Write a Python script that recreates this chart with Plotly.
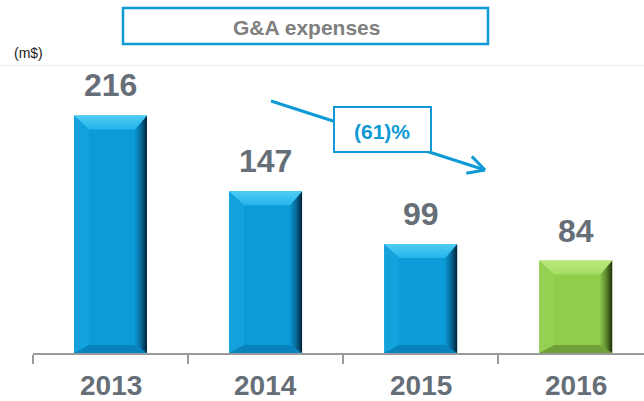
import math
import plotly.graph_objects as go

# ---- data ----
years = ["2013", "2014", "2015", "2016"]
values = [216, 147, 99, 84]
value_labels = ["216", "147", "99", "84"]
title_text = "G&A expenses"
unit_text = "(m$)"
change_text = "(61)%"

# ---- layout constants ----
W, H = 644, 401
PLOT_L, PLOT_R = 33, 644
PLOT_T, PLOT_B = 65, 353
X_RANGE = [-0.5, 3.44]
PX_PER_Y = 1.1
Y_RANGE = [0, (PLOT_B - PLOT_T) / PX_PER_Y]
PX_PER_X = (PLOT_R - PLOT_L) / (X_RANGE[1] - X_RANGE[0])
BAR_W = 0.47

BLUE = "#0f9ad6"
GRAY_TXT = "#666e77"

styles = {
    "blue": dict(body="#0b9bd8", top0="#4fcdf4", top1="#25b3ea",
                 left="#13a2dc", bottom="#0883bb",
                 right=[[0, "#0a94ce"], [0.5, "#07699a"], [1, "#032235"]]),
    "green": dict(body="#8fcd4c", top0="#bce87f", top1="#a3dc62",
                  left="#94d152", bottom="#6f9f36",
                  right=[[0, "#88c347"], [0.5, "#5e892d"], [1, "#1e2e0a"]]),
}
bar_style = ["blue", "blue", "blue", "green"]


def fx(px):
    return px / W


def fy(py):
    return 1 - py / H


xs = list(range(len(years)))
fig = go.Figure()

fig.add_trace(go.Bar(
    x=xs, y=values, width=BAR_W,
    marker=dict(color=[styles[s]["body"] for s in bar_style], line=dict(width=0)),
    hoverinfo="skip", showlegend=False,
))

# bevel faces derived from data values
dx = 15 / PX_PER_X
dxr = 12 / PX_PER_X
dy_top = 14 / PX_PER_Y
dy_bot = 8 / PX_PER_Y
for i, (v, s) in enumerate(zip(values, bar_style)):
    st = styles[s]
    x0, x1 = i - BAR_W / 2, i + BAR_W / 2
    ix0, ix1 = x0 + dx, x1 - dxr
    it, ib = v - dy_top, dy_bot
    faces = [
        ([x0, ix0, ix0, x0, x0], [0, ib, it, v, 0], st["left"], None),
        ([x0, x1, ix1, ix0, x0], [0, 0, ib, ib, 0], st["bottom"], None),
        ([x1, x1, ix1, ix1, x1], [0, v, it, ib, 0], None,
         dict(type="horizontal", colorscale=st["right"])),
        ([x0, x1, ix1, ix0, x0], [v, v, it, it, v], None,
         dict(type="vertical", colorscale=[[0, st["top1"]], [1, st["top0"]]])),
    ]
    for fxs, fys, solid, grad in faces:
        kw = dict(x=fxs, y=fys, mode="lines", fill="toself", line=dict(width=0),
                  hoverinfo="skip", showlegend=False)
        if grad is not None:
            kw["fillgradient"] = grad
        else:
            kw["fillcolor"] = solid
        fig.add_trace(go.Scatter(**kw))

FONT = "Liberation Sans, Arial, sans-serif"
annotations = []
for i, (v, lab) in enumerate(zip(values, value_labels)):
    annotations.append(dict(
        x=i, y=v, xref="x", yref="y", text=lab, showarrow=False,
        yanchor="middle", yshift=30,
        font=dict(family=FONT, size=32, color=GRAY_TXT, weight="bold"),
    ))
for i, yr in enumerate(years):
    annotations.append(dict(
        x=i, y=fy(385), xref="x", yref="paper", text=yr, showarrow=False,
        yanchor="middle",
        font=dict(family=FONT, size=28, color=GRAY_TXT, weight="bold"),
    ))
annotations.append(dict(
    x=fx(306), y=fy(27), xref="paper", yref="paper", text=title_text,
    showarrow=False, xanchor="center", yanchor="middle",
    font=dict(family=FONT, size=21, color="#7f7f7f", weight="bold"),
))
annotations.append(dict(
    x=fx(12), y=fy(53), xref="paper", yref="paper", text=unit_text,
    showarrow=False, xanchor="left", yanchor="middle",
    font=dict(family=FONT, size=14, color="#222222"),
))
annotations.append(dict(
    x=fx(382), y=fy(132), xref="paper", yref="paper", text=change_text,
    showarrow=False, xanchor="center", yanchor="middle",
    font=dict(family=FONT, size=21, color=BLUE, weight="bold"),
))

shapes = []
shapes.append(dict(type="line", xref="paper", yref="paper",
                   x0=0, x1=1, y0=fy(65.5), y1=fy(65.5),
                   line=dict(color="#ececec", width=1), layer="below"))
shapes.append(dict(type="rect", xref="paper", yref="paper",
                   x0=fx(123), x1=fx(488), y0=fy(44), y1=fy(8),
                   line=dict(color=BLUE, width=2.5), fillcolor="white", layer="below"))
a0, a1 = (271, 101), (485, 170)
shapes.append(dict(type="line", xref="paper", yref="paper",
                   x0=fx(a0[0]), y0=fy(a0[1]), x1=fx(a1[0]), y1=fy(a1[1]),
                   line=dict(color=BLUE, width=3)))
ux, uy = a1[0] - a0[0], a1[1] - a0[1]
n = math.hypot(ux, uy)
ux, uy = ux / n, uy / n
L, ang = 19, math.radians(28)
for sgn in (1, -1):
    ca, sa = math.cos(sgn * ang), math.sin(sgn * ang)
    bx, by = -ux, -uy
    rx, ry = bx * ca - by * sa, bx * sa + by * ca
    shapes.append(dict(type="line", xref="paper", yref="paper",
                       x0=fx(a1[0]), y0=fy(a1[1]),
                       x1=fx(a1[0] + L * rx), y1=fy(a1[1] + L * ry),
                       line=dict(color=BLUE, width=3)))
shapes.append(dict(type="rect", xref="paper", yref="paper",
                   x0=fx(334), x1=fx(431), y0=fy(152), y1=fy(107),
                   line=dict(color=BLUE, width=2), fillcolor="white"))

fig.update_layout(
    width=W, height=H,
    margin=dict(l=0, r=0, t=0, b=0),
    paper_bgcolor="white", plot_bgcolor="rgba(0,0,0,0)",
    showlegend=False,
    xaxis=dict(domain=[PLOT_L / W, PLOT_R / W], range=X_RANGE, type="linear",
               tickvals=[-0.5, 0.5, 1.5, 2.5, 3.5], ticktext=[""] * 5,
               ticks="outside", ticklen=9, tickwidth=2, tickcolor="#9a9a9a",
               showline=True, linecolor="#9a9a9a", linewidth=2,
               showgrid=False, zeroline=False, fixedrange=True),
    yaxis=dict(domain=[1 - PLOT_B / H, 1 - PLOT_T / H], range=Y_RANGE,
               visible=False, showgrid=False, zeroline=False, fixedrange=True),
    annotations=annotations,
    shapes=shapes,
)

fig.write_html(
    "out.html",
    config={"displayModeBar": False},
    post_script="document.body.style.margin='0';document.body.style.overflow='hidden';",
)
